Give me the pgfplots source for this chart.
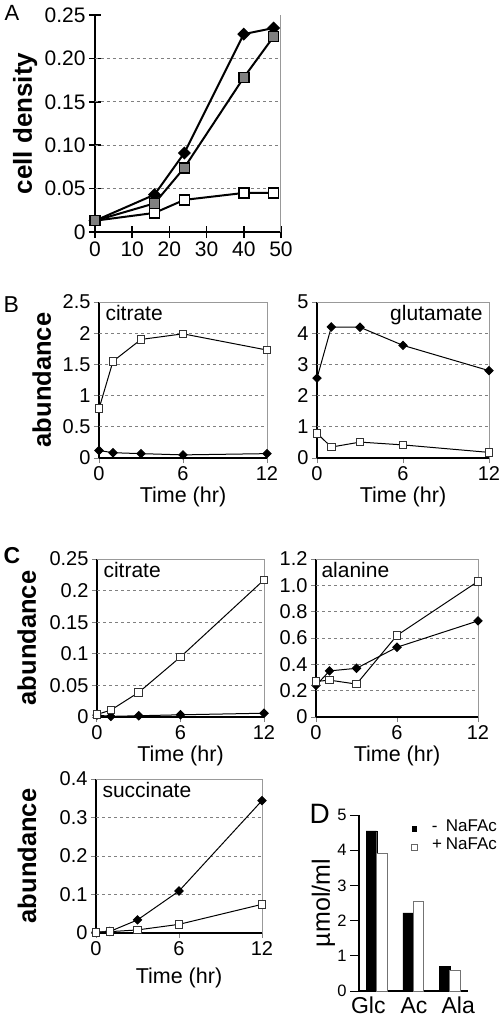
\documentclass[border=0pt]{standalone}
\usepackage{pgfplots}
\pgfplotsset{compat=1.18}
\usepackage{fontspec}
\setmainfont{Liberation Sans}
\newcommand{\fs}[1]{\fontsize{#1}{#1}\selectfont}

\tikzset{gbox/.style={gray!80, line width=1pt}}
\pgfplotsset{
  base/.style={scale only axis, anchor=north west,
    axis x line*=bottom, axis y line*=left,
    /pgf/number format/assume math mode=true,
    axis line style={black, line width=1.3pt, -},
    tick style={gray, line width=1pt},
    tick align=outside, major tick length=5pt,
    xmin=0, xmax=12, xtick={0,6,12}, xticklabels={0,6,12},
    tick label style={font=\fs{20}},
    xlabel={Time (hr)},
    xlabel style={font=\fs{21.5}, at={(axis description cs:0.5,0)}, anchor=center, yshift=-39pt},
    ylabel={abundance},
    ylabel style={font=\bfseries\fs{25.5}, anchor=center},
    extra y tick style={grid=major, major tick length=0pt},
    extra y tick labels={},
    grid style={gray, dashed, line width=0.9pt},
    clip=false,
  },
  dia/.style={black, line width=1pt, mark=square*, mark size=2.9pt, mark options={rotate=45, fill=black, solid}},
  sqw/.style={black, line width=1pt, mark=square*, mark size=3.8pt, mark options={fill=white, draw=black!80, solid}},
}

\begin{document}
\begin{tikzpicture}
\path[use as bounding box] (0pt,0pt) rectangle (500pt,-1021pt);

% ---------------- Panel A
\node[anchor=base west, font=\fs{22}] at (1pt,-20pt) {A};
\begin{axis}[base, at={(95pt,-15pt)}, width=186pt, height=217pt,
  xmin=0, xmax=50, ymin=0, ymax=0.25,
  xtick={0,10,20,30,40,50}, xticklabels={0,10,20,30,40,50},
  ytick={0,0.05,0.10,0.15,0.20,0.25}, yticklabels={0,0.05,0.10,0.15,0.20,0.25},
  extra y ticks={0.05,0.10,0.15,0.20},
  axis line style={line width=2pt}, tick style={black, line width=1.5pt},
  tick align=center, major tick length=12pt,
  tick label style={font=\fs{21}},
  xlabel={}, ylabel={cell density},
  ylabel style={at={(axis description cs:-0.376,0.5)}, font=\bfseries\fs{26}},
  grid style={line width=1.3pt}]
\draw[gbox] (rel axis cs:1,0) -- (rel axis cs:1,1);
\addplot[black, line width=2pt, mark=square*, mark size=3.6pt, mark options={rotate=45, fill=black, solid}]
  coordinates {(0,0.013) (16,0.043) (24,0.091) (40,0.228) (48,0.235)};
\addplot[black, line width=2pt, mark=square*, mark size=5pt, mark options={fill=white, draw=black, line width=1.5pt}]
  coordinates {(0,0.013) (16,0.022) (24,0.037) (40,0.045) (48,0.045)};
\addplot[black, line width=2pt, mark=square*, mark size=5pt, mark options={fill=gray, draw=black, line width=1.5pt}]
  coordinates {(0,0.013) (16,0.033) (24,0.074) (40,0.178) (48,0.225)};
\end{axis}

% ---------------- Panel B
\node[anchor=base west, font=\fs{23}] at (0pt,-312pt) {B};
\begin{axis}[base, at={(99pt,-302pt)}, width=168pt, height=156pt,
  ymin=0, ymax=2.5, ytick={0,0.5,1,1.5,2,2.5}, yticklabels={0,0.5,1,1.5,2,2.5},
  extra y ticks={0.5,1,1.5,2},
  ylabel style={at={(axis description cs:-0.34,0.5)}}]
\draw[gbox] (rel axis cs:0,1) -- (rel axis cs:1,1) -- (rel axis cs:1,0);
\node[anchor=base west, font=\fs{21}] at (rel axis cs:0,1) [xshift=3pt, yshift=-18pt] {citrate};
\addplot[dia] coordinates {(0,0.12) (1,0.085) (3,0.07) (6,0.05) (12,0.07)};
\addplot[sqw] coordinates {(0,0.79) (1,1.55) (3,1.90) (6,1.99) (12,1.73)};
\end{axis}
\begin{axis}[base, at={(317pt,-302pt)}, width=172pt, height=156pt,
  ymin=0, ymax=5, ytick={0,1,2,3,4,5}, yticklabels={0,1,2,3,4,5},
  extra y ticks={1,2,3,4}, ylabel={}]
\draw[gbox] (rel axis cs:0,1) -- (rel axis cs:1,1) -- (rel axis cs:1,0);
\node[anchor=base east, font=\fs{21}] at (rel axis cs:1,1) [xshift=-3pt, yshift=-18pt] {glutamate};
\addplot[dia] coordinates {(0,2.56) (1,4.2) (3,4.19) (6,3.61) (12,2.80)};
\addplot[sqw] coordinates {(0,0.79) (1,0.35) (3,0.51) (6,0.42) (12,0.18)};
\end{axis}

% ---------------- Panel C
\node[anchor=base west, font=\bfseries\fs{23}] at (0pt,-563pt) {C};
\begin{axis}[base, at={(97pt,-559pt)}, width=167pt, height=158pt,
  ymin=0, ymax=0.25, ytick={0,0.05,0.1,0.15,0.2,0.25}, yticklabels={0,0.05,0.1,0.15,0.2,0.25},
  extra y ticks={0.05,0.1,0.15,0.2},
  ylabel style={at={(axis description cs:-0.42,0.5)}}]
\draw[gbox] (rel axis cs:0,1) -- (rel axis cs:1,1) -- (rel axis cs:1,0);
\node[anchor=base west, font=\fs{21}] at (rel axis cs:0,1) [xshift=3pt, yshift=-18.3pt] {citrate};
\addplot[dia] coordinates {(0,0.003) (1,0.001) (3,0.002) (6,0.0035) (12,0.006)};
\addplot[sqw] coordinates {(0,0.004) (1,0.011) (3,0.039) (6,0.095) (12,0.217)};
\end{axis}
\begin{axis}[base, at={(316pt,-559pt)}, width=162pt, height=158pt,
  ymin=0, ymax=1.2, ytick={0,0.2,0.4,0.6,0.8,1.0,1.2}, yticklabels={0,0.2,0.4,0.6,0.8,1.0,1.2},
  extra y ticks={0.2,0.4,0.6,0.8,1.0}, ylabel={}]
\draw[gbox] (rel axis cs:0,1) -- (rel axis cs:1,1) -- (rel axis cs:1,0);
\node[anchor=base west, font=\fs{21}] at (rel axis cs:0,1) [xshift=2pt, yshift=-18.3pt] {alanine};
\addplot[dia] coordinates {(0,0.24) (1,0.35) (3,0.37) (6,0.53) (12,0.73)};
\addplot[sqw] coordinates {(0,0.27) (1,0.28) (3,0.25) (6,0.62) (12,1.03)};
\end{axis}
\begin{axis}[base, at={(96pt,-779pt)}, width=166pt, height=154pt,
  ymin=0, ymax=0.4, ytick={0,0.1,0.2,0.3,0.4}, yticklabels={0,0.1,0.2,0.3,0.4},
  extra y ticks={0.1,0.2,0.3},
  xlabel style={yshift=-6pt},
  ylabel style={at={(axis description cs:-0.416,0.5)}}]
\draw[gbox] (rel axis cs:0,1) -- (rel axis cs:1,1) -- (rel axis cs:1,0);
\node[anchor=base west, font=\fs{21}] at (rel axis cs:0,1) [xshift=3pt, yshift=-18.3pt] {succinate};
\addplot[dia] coordinates {(0,0.002) (1,0.004) (3,0.034) (6,0.109) (12,0.344)};
\addplot[sqw] coordinates {(0,0.002) (1,0.0035) (3,0.008) (6,0.0225) (12,0.0745)};
\end{axis}

% ---------------- Panel D
\node[anchor=base west, font=\fs{28}] at (306pt,-823pt) {D};
\begin{axis}[scale only axis, anchor=north west, at={(359pt,-815pt)},
  width=109.3pt, height=176pt, xmin=-0.483, xmax=2.5, ymin=0, ymax=5,
  axis x line*=bottom, axis y line*=left,
  axis line style={black, line width=1.2pt, -},
  /pgf/number format/assume math mode=true,
  ybar, bar width=10.5pt,
  xtick={-0.229,1.02,2.226}, xticklabels={Glc,Ac,Ala},
  x tick label style={font=\fs{23}, anchor=base, yshift=-13pt}, x tick style={draw=none},
  ytick={0,1,2,3,4,5}, yticklabels={0,1,2,3,4,5},
  y tick label style={font=\fs{16.5}}, y tick style={black, line width=1pt},
  tick align=outside, major tick length=9pt,
  ylabel={µmol/ml},
  ylabel style={font=\fs{25}, at={(axis description cs:-0.325,0.5)}, anchor=center},
  clip=false]
\addplot[fill=black, draw=black, bar shift=-5.25pt]
  coordinates {(0,4.55) (1,2.22) (2,0.70)};
\addplot[fill=white, draw=black!55, line width=1pt, bar shift=5.25pt]
  coordinates {(0,3.92) (1,2.53) (2,0.575)};
% legend
\fill[black] (axis description cs:0.482,0.905) rectangle (axis description cs:0.533,0.939);
\draw[fill=white, draw=black!60, line width=0.8pt] (axis description cs:0.482,0.801) rectangle (axis description cs:0.533,0.8335);
\node[anchor=base west, inner sep=0pt, font=\fs{17}] at (axis description cs:0.665,0.905) {-};
\node[anchor=base west, inner sep=0pt, font=\fs{17}] at (axis description cs:0.7932,0.905) {NaFAc};
\node[anchor=base west, inner sep=0pt, font=\fs{17}] at (axis description cs:0.668,0.805) {+};
\node[anchor=base west, inner sep=0pt, font=\fs{17}] at (axis description cs:0.7932,0.805) {NaFAc};
\end{axis}
\end{tikzpicture}
\end{document}
